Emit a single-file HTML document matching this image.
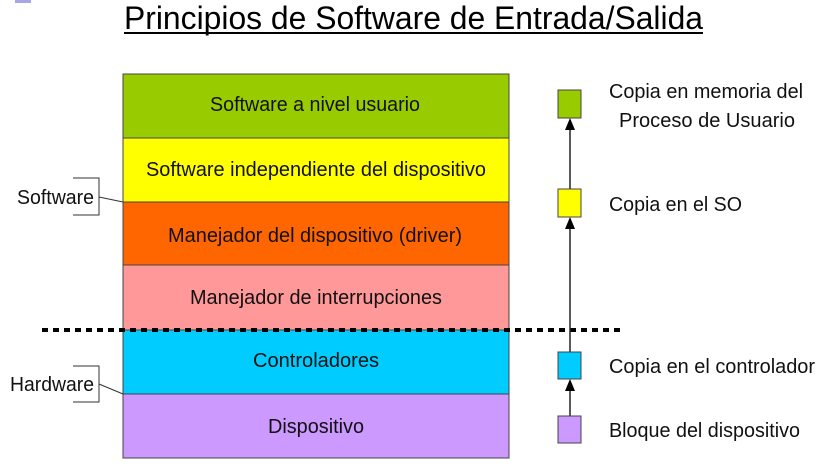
<!DOCTYPE html>
<html><head><meta charset="utf-8"><style>body{margin:0;background:#fff}svg{display:block}</style></head>
<body>
<svg width="827" height="473" viewBox="0 0 827 473" xmlns="http://www.w3.org/2000/svg" font-family="Liberation Sans, sans-serif">
<rect x="15" y="0" width="16" height="3" fill="#a9a6e6"/>
<text x="124" y="29" font-size="32" textLength="579" lengthAdjust="spacingAndGlyphs" fill="#000">Principios de Software de Entrada/Salida</text>
<rect x="124" y="32" width="579" height="2" fill="#000"/>
<g stroke="#444" stroke-width="1">
<rect x="123" y="74" width="386" height="64" fill="#99cc00"/>
<rect x="123" y="138" width="386" height="64" fill="#ffff00"/>
<rect x="123" y="202" width="386" height="63" fill="#ff6600"/>
<rect x="123" y="265" width="386" height="65" fill="#ff9999"/>
<rect x="123" y="330" width="386" height="64" fill="#00ccff"/>
<rect x="123" y="394" width="386" height="64" fill="#cc99ff"/>
</g>
<g font-size="20" fill="#111">
<text x="210" y="111" textLength="210" lengthAdjust="spacingAndGlyphs">Software a nivel usuario</text>
<text x="146" y="176" textLength="340" lengthAdjust="spacingAndGlyphs">Software independiente del dispositivo</text>
<text x="168" y="242" textLength="294" lengthAdjust="spacingAndGlyphs">Manejador del dispositivo (driver)</text>
<text x="190" y="304" textLength="252" lengthAdjust="spacingAndGlyphs">Manejador de interrupciones</text>
<text x="253" y="367" textLength="126" lengthAdjust="spacingAndGlyphs">Controladores</text>
<text x="268" y="433" textLength="96" lengthAdjust="spacingAndGlyphs">Dispositivo</text>
<text x="609" y="98" textLength="194" lengthAdjust="spacingAndGlyphs">Copia en memoria del</text>
<text x="619" y="127" textLength="176" lengthAdjust="spacingAndGlyphs">Proceso de Usuario</text>
<text x="609" y="211" textLength="133" lengthAdjust="spacingAndGlyphs">Copia en el SO</text>
<text x="609" y="373" textLength="206" lengthAdjust="spacingAndGlyphs">Copia en el controlador</text>
<text x="609" y="437" textLength="191" lengthAdjust="spacingAndGlyphs">Bloque del dispositivo</text>
<text x="17" y="204" textLength="77" lengthAdjust="spacingAndGlyphs">Software</text>
<text x="10" y="391" textLength="84" lengthAdjust="spacingAndGlyphs">Hardware</text>
</g>
<line x1="42" y1="330" x2="625" y2="330" stroke="#000" stroke-width="4" stroke-dasharray="6,5"/>
<g fill="none" stroke="#333" stroke-width="1">
<path d="M73,178 H99 V215 H73"/><path d="M99,197 L123,202"/>
<path d="M73,366 H99 V402 H73"/><path d="M99,384 L123,394"/>
</g>
<g stroke="#222" stroke-width="1.5">
<line x1="570" y1="189" x2="570" y2="128"/>
<line x1="570" y1="352" x2="570" y2="226"/>
<line x1="570" y1="416" x2="570" y2="390"/>
</g>
<g fill="#000">
<path d="M570,118 L565,130 L575,130 Z"/>
<path d="M570,217 L565,229 L575,229 Z"/>
<path d="M570,379 L565,391 L575,391 Z"/>
</g>
<g stroke="#444" stroke-width="1">
<rect x="558" y="90" width="23" height="28" fill="#99cc00"/>
<rect x="558" y="189" width="23" height="28" fill="#ffff00"/>
<rect x="558" y="352" width="23" height="27" fill="#00ccff"/>
<rect x="558" y="416" width="23" height="27" fill="#cc99ff"/>
</g>
</svg>
</body></html>
